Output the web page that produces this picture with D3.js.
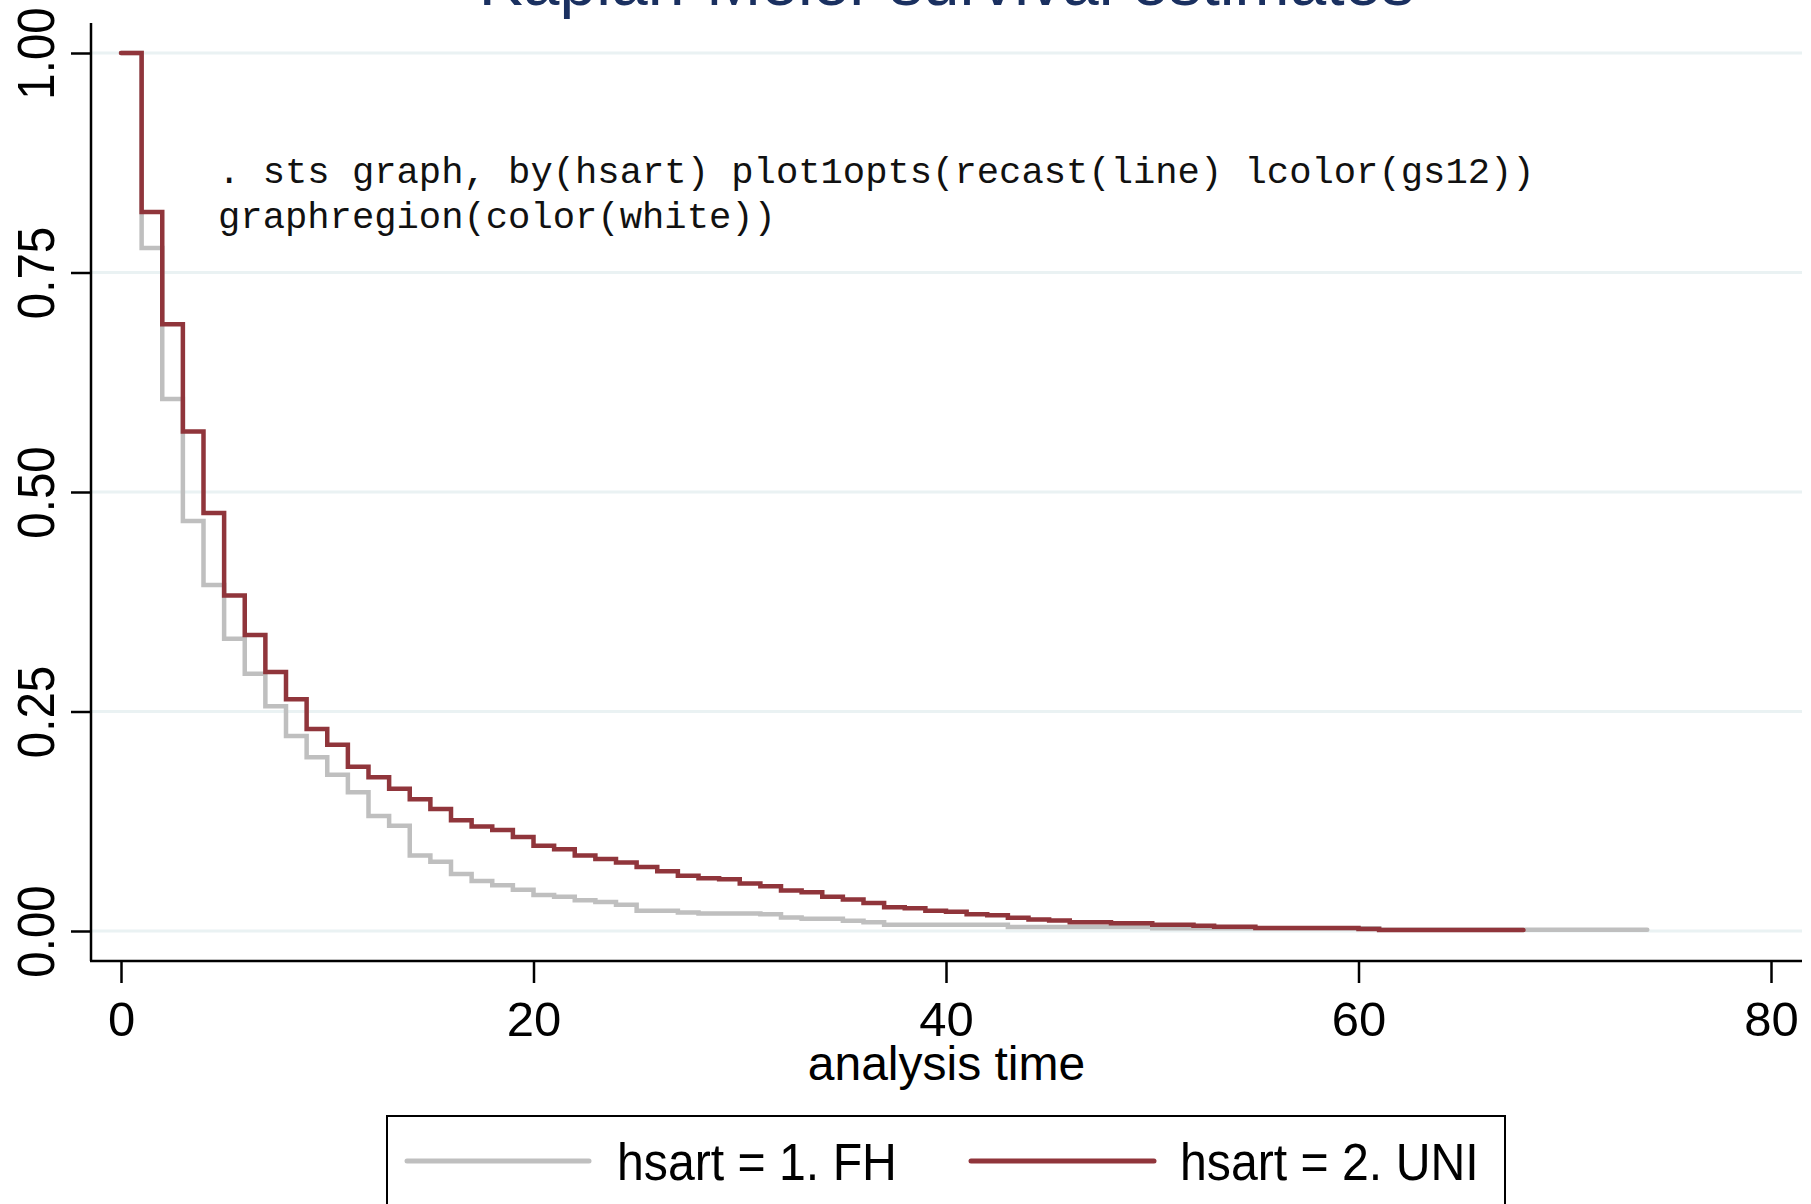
<!DOCTYPE html>
<html>
<head>
<meta charset="utf-8">
<script src="https://cdn.jsdelivr.net/npm/d3@7"></script>
<style>
  html, body { margin: 0; padding: 0; background: #ffffff; }
  svg { display: block; }
</style>
</head>
<body>
<svg id="chart" width="1811" height="1204"></svg>
<script>
// ---- data ----
const titleText = "Kaplan-Meier survival estimates";
const xTitle = "analysis time";
const noteLines = [". sts graph, by(hsart) plot1opts(recast(line) lcolor(gs12))",
                   "graphregion(color(white))"];
const xTicks = [0, 20, 40, 60, 80];
const yTicks = [0, 0.25, 0.5, 0.75, 1];
const yTickLabels = ["0.00", "0.25", "0.50", "0.75", "1.00"];
const seriesNames = ["hsart = 1. FH", "hsart = 2. UNI"];

// group 1: FH (gray)
const fhTime = [0, 1, 2, 3, 4, 5, 6, 7, 8, 9, 10, 11, 12, 13, 14, 15, 16, 17, 18, 19, 20,
                21, 22, 23, 24, 25, 27, 28, 31, 32, 33, 35, 36, 37, 43, 50, 61, 74];
const fhSurv = [1, 0.778, 0.606, 0.467, 0.394, 0.333, 0.293, 0.256, 0.222, 0.198, 0.178,
                0.158, 0.131, 0.120, 0.086, 0.079, 0.065, 0.057, 0.052, 0.047, 0.041,
                0.039, 0.035, 0.033, 0.030, 0.023, 0.021, 0.020, 0.019, 0.0155, 0.014,
                0.0117, 0.010, 0.0072, 0.0046, 0.003, 0.0013, 0.0013];

// group 2: UNI (maroon)
const uniTime = [0, 1, 2, 3, 4, 5, 6, 7, 8, 9, 10, 11, 12, 13, 14, 15, 16, 17, 18, 19, 20,
                 21, 22, 23, 24, 25, 26, 27, 28, 29, 30, 31, 32, 33, 34, 35, 36, 37, 38, 39,
                 40, 41, 42, 43, 44, 45, 46, 48, 50, 52, 53, 55, 60, 61, 68];
const uniSurv = [1, 0.819, 0.691, 0.569, 0.476, 0.382, 0.337, 0.295, 0.264, 0.230, 0.212,
                 0.187, 0.175, 0.162, 0.150, 0.139, 0.126, 0.119, 0.115, 0.107, 0.097,
                 0.093, 0.086, 0.082, 0.078, 0.073, 0.068, 0.063, 0.060, 0.059, 0.054,
                 0.051, 0.046, 0.044, 0.039, 0.036, 0.032, 0.027, 0.026, 0.023,
                 0.022, 0.019, 0.018, 0.015, 0.013, 0.012, 0.010, 0.0088, 0.0072, 0.006,
                 0.0048, 0.0035, 0.0023, 0.001, 0.001];

// ---- styling ----
const fhColor = "#bfbfbf";
const uniColor = "#90353b";
const gridColor = "#eaf2f3";
const sansFont = "'Liberation Sans', Arial, Helvetica, sans-serif";
const monoFont = "'Liberation Mono', 'Courier New', monospace";

const svg = d3.select("#chart");
svg.append("rect").attr("width", 1811).attr("height", 1204).attr("fill", "#ffffff");

const plotLeft = 91, plotRight = 1802, plotTop = 23, plotBottom = 961;

const x = d3.scaleLinear().domain([0, 80]).range([121, 1771]);
const y = d3.scaleLinear().domain([0, 1]).range([931, 53]);

// helper: condense text horizontally (reference font is narrower than Arial)
function condense(sel, f) {
  sel.each(function () {
    const w = this.getComputedTextLength();
    d3.select(this).attr("textLength", w * f).attr("lengthAdjust", "spacingAndGlyphs");
  });
}

// title (mostly cut off at top, as in the reference)
svg.append("text")
  .attr("x", (plotLeft + plotRight) / 2)
  .attr("y", 5)
  .attr("text-anchor", "middle")
  .attr("font-family", sansFont)
  .attr("font-size", 66)
  .attr("fill", "#1a3060")
  .text(titleText);

// gridlines
svg.append("g").selectAll("line").data(yTicks).join("line")
  .attr("x1", plotLeft).attr("x2", plotRight)
  .attr("y1", d => y(d)).attr("y2", d => y(d))
  .attr("stroke", gridColor).attr("stroke-width", 3);

// Y axis
const yAxis = d3.axisLeft(y).tickValues(yTicks)
  .tickFormat((d, i) => yTickLabels[i]).tickSize(20).tickPadding(0);
const gy = svg.append("g").attr("transform", `translate(${plotLeft},0)`).call(yAxis);
gy.select(".domain").remove();
gy.selectAll(".tick line").attr("stroke", "#000").attr("stroke-width", 2.5);
gy.selectAll(".tick text")
  .attr("font-family", sansFont).attr("font-size", 51).attr("fill", "#000")
  .attr("text-anchor", "middle").attr("dy", null)
  .attr("x", null)
  .attr("transform", "translate(-37,0) rotate(-90)")
  .call(condense, 0.93);
gy.append("line").attr("x1", 0).attr("x2", 0).attr("y1", plotTop).attr("y2", plotBottom)
  .attr("stroke", "#000").attr("stroke-width", 2.5);

// X axis
const xAxis = d3.axisBottom(x).tickValues(xTicks).tickSize(22).tickPadding(0);
const gx = svg.append("g").attr("transform", `translate(0,${plotBottom})`).call(xAxis);
gx.select(".domain").remove();
gx.selectAll(".tick line").attr("stroke", "#000").attr("stroke-width", 2.5);
gx.selectAll(".tick text")
  .attr("font-family", sansFont).attr("font-size", 49).attr("fill", "#000")
  .attr("dy", null).attr("y", 75);
gx.append("line").attr("x1", plotLeft - 1).attr("x2", plotRight).attr("y1", 0).attr("y2", 0)
  .attr("stroke", "#000").attr("stroke-width", 2.5);

// x title
svg.append("text")
  .attr("x", (plotLeft + plotRight) / 2).attr("y", 1080)
  .attr("text-anchor", "middle")
  .attr("font-family", sansFont).attr("font-size", 48).attr("fill", "#000")
  .text(xTitle);

// survival curves
const stepLine = d3.line().x(d => x(d[0])).y(d => y(d[1])).curve(d3.curveStepAfter);
const fhData = fhTime.map((t, i) => [t, fhSurv[i]]);
const uniData = uniTime.map((t, i) => [t, uniSurv[i]]);

svg.append("path").datum(fhData).attr("d", stepLine)
  .attr("fill", "none").attr("stroke", fhColor).attr("stroke-width", 4.5)
  .attr("stroke-linecap", "round").attr("stroke-linejoin", "miter");
svg.append("path").datum(uniData).attr("d", stepLine)
  .attr("fill", "none").attr("stroke", uniColor).attr("stroke-width", 4.5)
  .attr("stroke-linecap", "round").attr("stroke-linejoin", "miter");

// note text
svg.append("g").selectAll("text").data(noteLines).join("text")
  .attr("x", 218).attr("y", (d, i) => 183 + i * 45)
  .attr("font-family", monoFont).attr("font-size", 37.2).attr("fill", "#111")
  .attr("xml:space", "preserve")
  .style("white-space", "pre")
  .text(d => d);

// legend
const lg = svg.append("g");
lg.append("rect").attr("x", 387).attr("y", 1116).attr("width", 1118).attr("height", 200)
  .attr("fill", "#fff").attr("stroke", "#000").attr("stroke-width", 2);
const legendItems = [
  { name: seriesNames[0], color: fhColor, x1: 407, x2: 589, tx: 617 },
  { name: seriesNames[1], color: uniColor, x1: 971, x2: 1154, tx: 1180 }
];
lg.selectAll("line.leg").data(legendItems).join("line")
  .attr("class", "leg")
  .attr("x1", d => d.x1).attr("x2", d => d.x2).attr("y1", 1161).attr("y2", 1161)
  .attr("stroke", d => d.color).attr("stroke-width", 5).attr("stroke-linecap", "round");
lg.selectAll("text").data(legendItems).join("text")
  .attr("x", d => d.tx).attr("y", 1180)
  .attr("font-family", sansFont).attr("font-size", 51).attr("fill", "#000")
  .text(d => d.name)
  .call(condense, 0.945);
</script>
</body>
</html>
